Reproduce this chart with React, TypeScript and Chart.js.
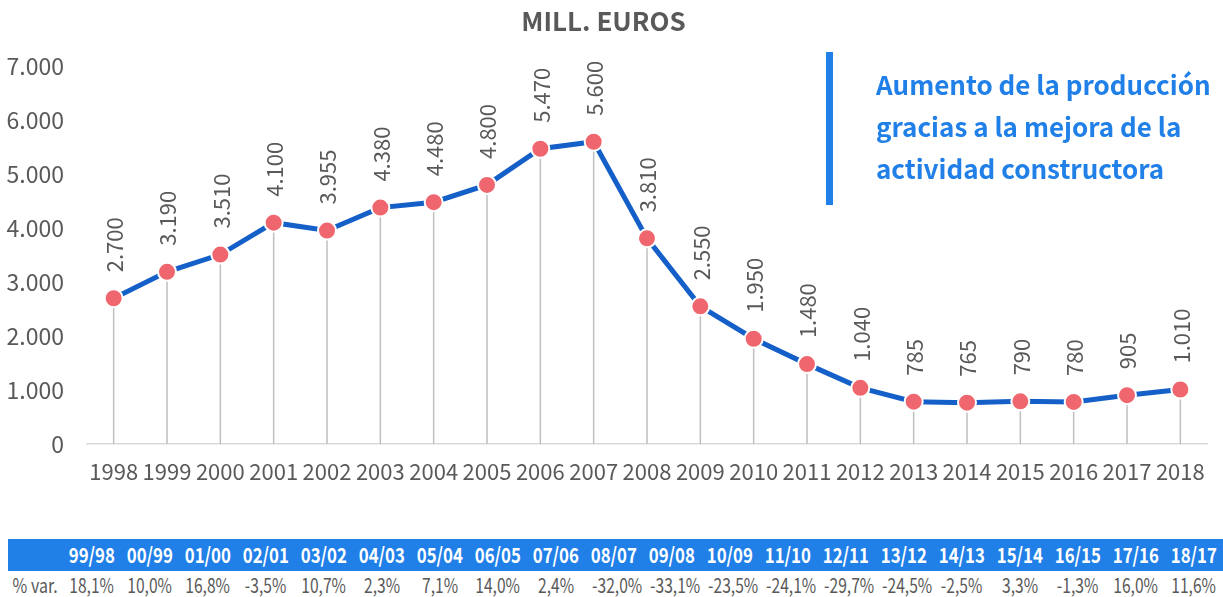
import React, { useEffect, useRef } from "react";
import { Chart, registerables } from "chart.js";

Chart.register(...registerables);

const years = ["1998","1999","2000","2001","2002","2003","2004","2005","2006","2007","2008","2009","2010","2011","2012","2013","2014","2015","2016","2017","2018"];
const values = [2700, 3190, 3510, 4100, 3955, 4380, 4480, 4800, 5470, 5600, 3810, 2550, 1950, 1480, 1040, 785, 765, 790, 780, 905, 1010];
const periods = ["99/98","00/99","01/00","02/01","03/02","04/03","05/04","06/05","07/06","08/07","09/08","10/09","11/10","12/11","13/12","14/13","15/14","16/15","17/16","18/17"];
const pctVar = ["18,1%","10,0%","16,8%","-3,5%","10,7%","2,3%","7,1%","14,0%","2,4%","-32,0%","-33,1%","-23,5%","-24,1%","-29,7%","-24,5%","-2,5%","3,3%","-1,3%","16,0%","11,6%"];
const rowLabel = "% var.";
const title = "MILL. EUROS";
const noteLines = ["Aumento de la producción", "gracias a la mejora de la", "actividad constructora"];

const FONT = "'Noto Sans CJK JP', 'Noto Sans', sans-serif";
const GRAY = "#595959";
const BLUE = "#2080E8";

const fmt = (v: number) => v.toLocaleString("de-DE");

const dropLines = {
  id: "dropLines",
  beforeDatasetsDraw(chart: any) {
    const { ctx } = chart;
    const meta = chart.getDatasetMeta(0);
    const base = chart.scales.y.getPixelForValue(0);
    ctx.save();
    ctx.strokeStyle = "#BFBFBF";
    ctx.lineWidth = 1.5;
    meta.data.forEach((p: any) => {
      ctx.beginPath();
      ctx.moveTo(p.x, p.y);
      ctx.lineTo(p.x, base);
      ctx.stroke();
    });
    ctx.restore();
  },
};

const valueLabels = {
  id: "valueLabels",
  afterDatasetsDraw(chart: any) {
    const { ctx } = chart;
    const meta = chart.getDatasetMeta(0);
    const data = chart.data.datasets[0].data as number[];
    ctx.save();
    ctx.fillStyle = GRAY;
    ctx.font = `22px ${FONT}`;
    ctx.textAlign = "left";
    ctx.textBaseline = "middle";
    meta.data.forEach((p: any, i: number) => {
      ctx.save();
      ctx.translate(p.x + 1, p.y - 26);
      ctx.rotate(-Math.PI / 2);
      ctx.fillText(fmt(data[i]), 0, 0);
      ctx.restore();
    });
    ctx.restore();
  },
};

const cellBase: React.CSSProperties = {
  position: "absolute",
  width: 58,
  textAlign: "center",
  whiteSpace: "nowrap",
};

export default function App() {
  const ref = useRef<HTMLCanvasElement>(null);
  useEffect(() => {
    document.body.style.margin = "0";
    const chart = new Chart(ref.current!, {
      type: "line",
      data: {
        labels: years,
        datasets: [
          {
            data: values,
            borderColor: "#1560C8",
            borderWidth: 5,
            pointBackgroundColor: "#F0666E",
            pointBorderColor: "#FFFFFF",
            pointBorderWidth: 2,
            pointRadius: 9,
            tension: 0,
          },
        ],
      },
      options: {
        animation: false,
        responsive: false,
        maintainAspectRatio: false,
        layout: { padding: { left: 0, right: 16, top: 0, bottom: 12 } },
        plugins: {
          legend: { display: false },
          tooltip: { enabled: false },
          title: {
            display: true,
            text: title,
            color: GRAY,
            font: { family: FONT, size: 26, weight: "bold" },
            padding: { top: 6, bottom: 29 },
          },
        },
        scales: {
          x: {
            offset: true,
            grid: { display: false, drawTicks: false },
            border: { display: true, color: "#D9D9D9", width: 1.5 },
            ticks: { color: GRAY, font: { family: FONT, size: 22 }, padding: 14, maxRotation: 0, autoSkip: false },
            afterFit: (s: any) => { s.height = 44; },
          },
          y: {
            min: 0,
            max: 7000,
            grid: { display: false, drawTicks: false },
            border: { display: false },
            ticks: {
              stepSize: 1000,
              color: GRAY,
              font: { family: FONT, size: 23 },
              padding: 23,
              callback: (v: any) => fmt(Number(v)),
            },
            afterFit: (s: any) => { s.width = 87; },
          },
        },
      },
      plugins: [dropLines, valueLabels],
    });
    return () => chart.destroy();
  }, []);

  return (
    <div style={{ position: "relative", width: 1223, height: 597, fontFamily: FONT, overflow: "hidden" }}>
      <canvas ref={ref} width={1223} height={500} style={{ position: "absolute", left: 0, top: 0 }} />
      <div style={{ position: "absolute", left: 826, top: 52, width: 7, height: 153, background: BLUE }} />
      <div style={{ position: "absolute", left: 876, top: 63, color: BLUE, fontWeight: 700, fontSize: 26, lineHeight: "42px", whiteSpace: "nowrap" }}>
        {noteLines.map((l, i) => (
          <div key={i}>{l}</div>
        ))}
      </div>
      <div style={{ position: "absolute", left: 8, top: 539, width: 1215, height: 32, background: BLUE }} />
      {periods.map((p, i) => (
        <div key={"p" + i} style={{ ...cellBase, left: 63 + i * 58, top: 539, height: 32, lineHeight: "31px", color: "#fff", fontWeight: 700, fontSize: 21 }}>
          <span style={{ display: "inline-block", transform: "scaleX(0.8)" }}>{p}</span>
        </div>
      ))}
      <div style={{ ...cellBase, left: 6, top: 571, lineHeight: "28px", color: GRAY, fontSize: 20 }}>
        <span style={{ display: "inline-block", transform: "scaleX(0.8)" }}>{rowLabel}</span>
      </div>
      {pctVar.map((p, i) => (
        <div key={"v" + i} style={{ ...cellBase, left: 63 + i * 58, top: 571, lineHeight: "28px", color: GRAY, fontSize: 20 }}>
          <span style={{ display: "inline-block", transform: "scaleX(0.78)" }}>{p}</span>
        </div>
      ))}
    </div>
  );
}
